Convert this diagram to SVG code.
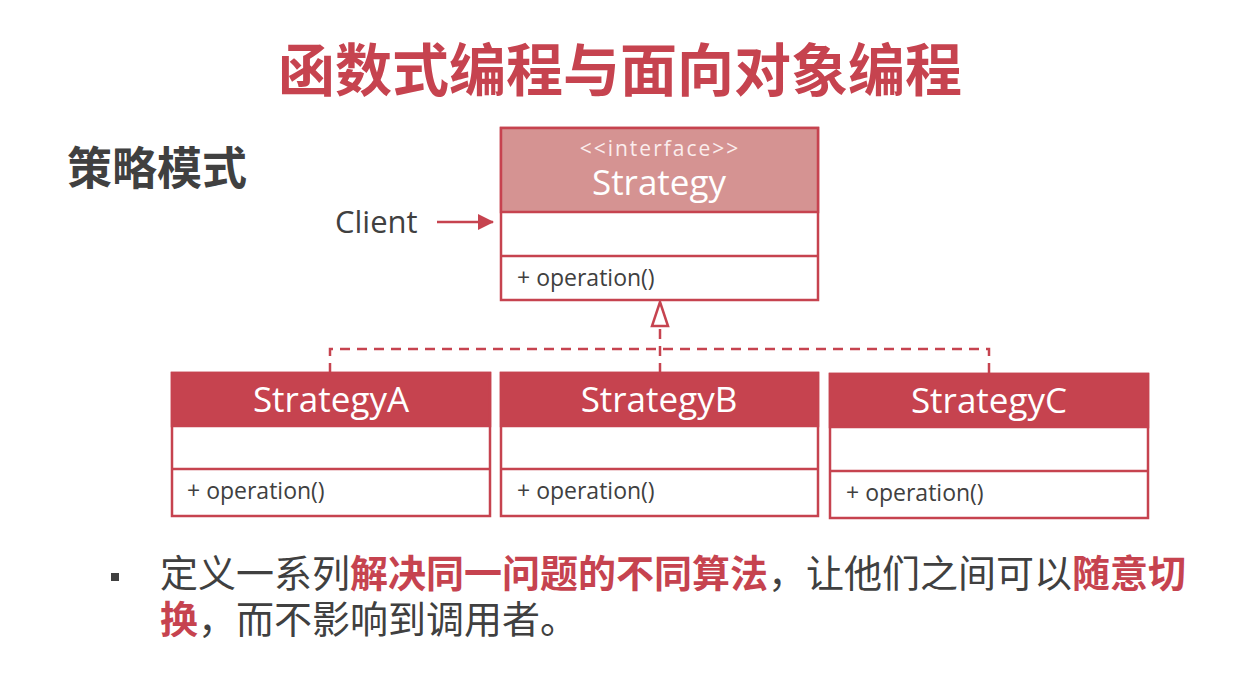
<svg xmlns="http://www.w3.org/2000/svg" width="1238" height="692" viewBox="0 0 1238 692">
<defs>
<style>
.box{fill:#ffffff;stroke:#C6434F;stroke-width:2.5}
.hdr{fill:#C6434F;stroke:#C6434F;stroke-width:2.5}
.ihdr{fill:#D59392;stroke:#C6434F;stroke-width:2.5}
.sep{stroke:#C6434F;stroke-width:2.5}
.name{font-family:"Open Sans","Noto Sans",sans-serif;font-size:35px;fill:#ffffff;text-anchor:middle}
.op{font-family:"Open Sans","Noto Sans",sans-serif;font-size:23px;fill:#404040}
.dash{fill:none;stroke:#C6434F;stroke-width:2.5;stroke-dasharray:10 7}
.cjk{font-family:"Noto Sans CJK SC","Noto Sans",sans-serif}
.red{fill:#C6434F;font-weight:bold}
</style>
<marker id="filled" viewBox="0 0 16 16" refX="15" refY="8" markerWidth="16" markerHeight="16" markerUnits="userSpaceOnUse" orient="auto">
<path d="M0,0 L16,8 L0,16 Z" fill="#C6434F"/>
</marker>
</defs>
<rect width="1238" height="692" fill="#ffffff"/>
<text x="620" y="91" class="cjk" font-size="57" font-weight="bold" fill="#C6434F" text-anchor="middle">函数式编程与面向对象编程</text>
<text x="67" y="185" class="cjk" font-size="45" font-weight="bold" fill="#404040">策略模式</text>

<g id="connectors">
<line x1="437" y1="222" x2="493" y2="222" stroke="#C6434F" stroke-width="2.5" marker-end="url(#filled)"/>
<polyline class="dash" points="330,373 330,349 989,349 989,373"/>
<line class="dash" x1="660" y1="373" x2="660" y2="326"/>
<path d="M660,302 L668,326 L652,326 Z" fill="#ffffff" stroke="#C6434F" stroke-width="2.5"/>
</g>

<g id="client">
<text x="335" y="233" font-family="Open Sans, Noto Sans, sans-serif" font-size="31" fill="#404040">Client</text>
</g>

<g id="strategy">
<rect class="box" x="501" y="128" width="317" height="172"/>
<rect class="ihdr" x="501" y="128" width="317" height="84"/>
<line class="sep" x1="501" y1="256" x2="818" y2="256"/>
<text x="660" y="156" font-family="Open Sans, Noto Sans, sans-serif" font-size="21" letter-spacing="2" fill="#FBEDED" text-anchor="middle">&lt;&lt;interface&gt;&gt;</text>
<text x="659" y="195" class="name">Strategy</text>
<text x="517" y="286" class="op">+ operation()</text>
</g>

<g id="strategyA">
<rect class="box" x="172" y="373" width="318" height="143"/>
<rect class="hdr" x="172" y="373" width="318" height="53"/>
<line class="sep" x1="172" y1="469" x2="490" y2="469"/>
<text x="331" y="412" class="name">StrategyA</text>
<text x="187" y="499" class="op">+ operation()</text>
</g>

<g id="strategyB">
<rect class="box" x="501" y="373" width="317" height="143"/>
<rect class="hdr" x="501" y="373" width="317" height="53"/>
<line class="sep" x1="501" y1="469" x2="818" y2="469"/>
<text x="659" y="412" class="name">StrategyB</text>
<text x="517" y="499" class="op">+ operation()</text>
</g>

<g id="strategyC">
<rect class="box" x="830" y="374" width="318" height="144"/>
<rect class="hdr" x="830" y="374" width="318" height="53"/>
<line class="sep" x1="830" y1="471" x2="1148" y2="471"/>
<text x="989" y="413" class="name">StrategyC</text>
<text x="846" y="501" class="op">+ operation()</text>
</g>

<rect x="111" y="573" width="8" height="8" fill="#404040"/>
<text x="160" y="587" class="cjk" font-size="38" fill="#404040">定义一系列<tspan class="red">解决同一问题的不同算法</tspan>，让他们之间可以<tspan class="red">随意切</tspan></text>
<text x="160" y="633" class="cjk" font-size="38" fill="#404040"><tspan class="red">换</tspan>，而不影响到调用者。</text>
</svg>
